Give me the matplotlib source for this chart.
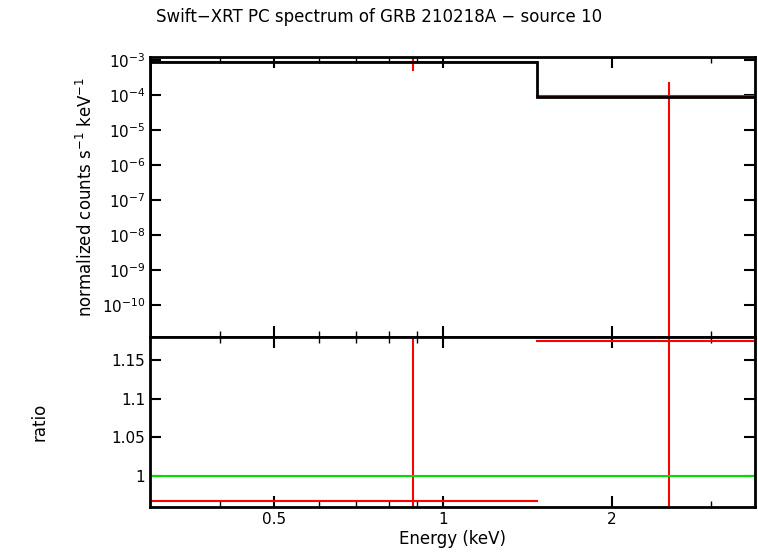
import matplotlib
matplotlib.use("Agg")
import matplotlib.pyplot as plt
from matplotlib.ticker import FixedLocator, NullFormatter, NullLocator

model_edges = [0.3, 1.47, 3.6]
model_vals = [8.8e-4, 8.8e-5]
data_x = [0.885, 2.53]
data_xlo = [0.3, 1.47]
data_xhi = [1.47, 3.6]
data_y = [8.8e-4, 9.2e-5]
data_ylo = [5e-4, 1e-12]
data_yhi = [1.2e-3, 2.1e-4]
ratio_y = [0.9675, 1.175]
ratio_lo = [0.9, 0.9]
ratio_hi = [1.18, 1.3]

fig = plt.figure(figsize=(7.58, 5.56), dpi=100)
ax1 = fig.add_axes([150/758, 1-337/556, 605/758, 280/556])
ax2 = fig.add_axes([150/758, 1-507/556, 605/758, 170/556], sharex=ax1)

ax1.stairs(model_vals, model_edges, color="black", lw=2, zorder=3)
for i in range(2):
    ax1.plot([data_xlo[i], data_xhi[i]], [data_y[i]]*2, color="red", lw=1.5, zorder=2)
    ax1.plot([data_x[i]]*2, [data_ylo[i], data_yhi[i]], color="red", lw=1.5, zorder=2)
    ax2.plot([data_xlo[i], data_xhi[i]], [ratio_y[i]]*2, color="red", lw=1.5)
    ax2.plot([data_x[i]]*2, [ratio_lo[i], ratio_hi[i]], color="red", lw=1.5)
ax2.axhline(1.0, color="#00dd00", lw=1.5)

ax1.set_xscale("log")
ax1.set_yscale("log")
ax1.set_xlim(0.3, 3.6)
ax1.set_ylim(1.2e-11, 1.2e-3)
ax2.set_ylim(0.96, 1.18)
ax1.yaxis.set_major_locator(FixedLocator([10.0**k for k in range(-10, -2)]))
ax1.yaxis.set_minor_locator(NullLocator())
ax2.set_yticks([1, 1.05, 1.1, 1.15])
ax2.set_yticklabels(["1", "1.05", "1.1", "1.15"])
ax2.set_xticks([0.5, 1, 2])
ax2.set_xticklabels(["0.5", "1", "2"])
ax2.xaxis.set_minor_formatter(NullFormatter())
plt.setp(ax1.get_xticklabels(which="both"), visible=False)

for ax in (ax1, ax2):
    ax.tick_params(which="both", direction="in", top=True, right=True, labelsize=11)
    ax.tick_params(which="major", length=8, width=1.5)
    ax.tick_params(which="minor", length=4, width=1)
    for s in ax.spines.values():
        s.set_linewidth(2)

ax1.set_ylabel("normalized counts s$^{-1}$ keV$^{-1}$", fontsize=12)
ax2.set_ylabel("ratio", fontsize=12, labelpad=45)
ax2.set_xlabel("Energy (keV)", fontsize=12, labelpad=2)
fig.suptitle("Swift\u2212XRT PC spectrum of GRB 210218A \u2212 source 10", fontsize=12, y=0.985)
fig.savefig("out.png", dpi=100)
